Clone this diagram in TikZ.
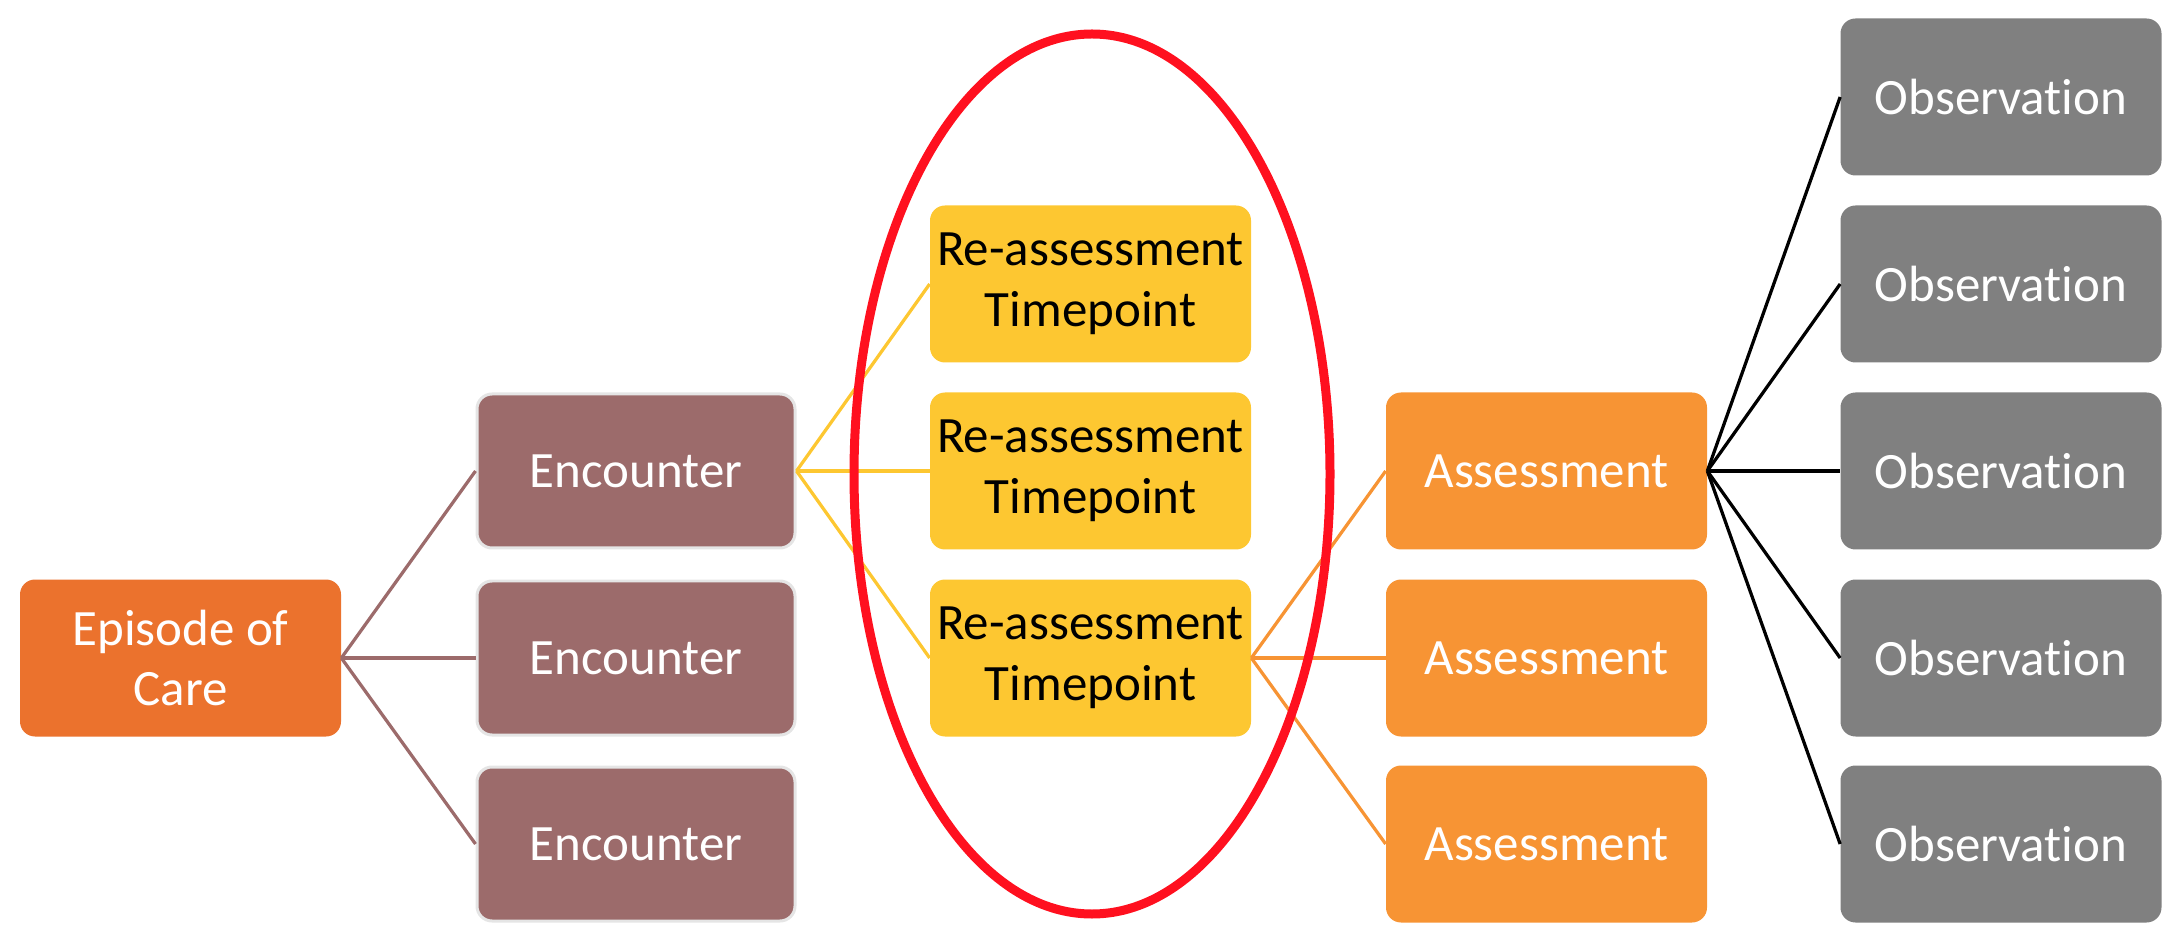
\documentclass[tikz,border=0pt]{standalone}
\usepackage{fontspec}
\setmainfont{Carlito}[RawFeature={-liga;-clig;-calt;-rlig;-dlig}]
\usepackage{xcolor}
\usetikzlibrary{positioning, shapes.geometric}
\definecolor{EPORANGE}{HTML}{EB722D}
\definecolor{ENCBROWN}{HTML}{9C6B6B}
\definecolor{TPYELLOW}{HTML}{FDC731}
\definecolor{ASORANGE}{HTML}{F79434}
\definecolor{OBSGRAY}{HTML}{808080}
\definecolor{RINGRED}{HTML}{FF101F}
\begin{document}
\begin{tikzpicture}[
          box/.style={rectangle, rounded corners=0.3cm, minimum width=6.42cm,
                      minimum height=3.14cm, align=center, text=white,
                      font=\fontsize{29}{34.5}\selectfont, inner sep=0pt},
          encbox/.style={box, fill=ENCBROWN, draw=gray!20, line width=0.06cm,
                         minimum width=6.36cm, minimum height=3.08cm},
          link/.style={line width=0.065cm}
        ]
          \useasboundingbox (0,0) rectangle (43.58,18.84);
          \node[box, fill=EPORANGE] (episode) at (3.61,5.68) {Episode of\\Care};
          \node[encbox] (enc1) at (12.72,9.42) {Encounter};
          \node[encbox] (enc2) at (12.72,5.68) {Encounter};
          \node[encbox] (enc3) at (12.72,1.96) {Encounter};
          \node[box, fill=TPYELLOW, text=black] (tp1) at (21.81,13.16) {Re-assessment\\Timepoint};
          \node[box, fill=TPYELLOW, text=black] (tp2) at (21.81,9.42) {Re-assessment\\Timepoint};
          \node[box, fill=TPYELLOW, text=black] (tp3) at (21.81,5.68) {Re-assessment\\Timepoint};
          \node[box, fill=ASORANGE] (as1) at (30.93,9.42) {Assessment};
          \node[box, fill=ASORANGE] (as2) at (30.93,5.68) {Assessment};
          \node[box, fill=ASORANGE] (as3) at (30.93,1.96) {Assessment};
          \node[box, fill=OBSGRAY] (obs1) at (40.02,16.90) {Observation};
          \node[box, fill=OBSGRAY] (obs2) at (40.02,13.16) {Observation};
          \node[box, fill=OBSGRAY] (obs3) at (40.02,9.42) {Observation};
          \node[box, fill=OBSGRAY] (obs4) at (40.02,5.68) {Observation};
          \node[box, fill=OBSGRAY] (obs5) at (40.02,1.96) {Observation};
          \draw[link, ENCBROWN] (episode.east) -- (enc1.west);
          \draw[link, ENCBROWN] (episode.east) -- (enc2.west);
          \draw[link, ENCBROWN] (episode.east) -- (enc3.west);
          \draw[link, TPYELLOW] (enc1.east) -- (tp1.west);
          \draw[link, TPYELLOW] (enc1.east) -- (tp2.west);
          \draw[link, TPYELLOW] (enc1.east) -- (tp3.west);
          \draw[link, ASORANGE] (tp3.east) -- (as1.west);
          \draw[link, ASORANGE] (tp3.east) -- (as2.west);
          \draw[link, ASORANGE] (tp3.east) -- (as3.west);
          \draw[link, black] (as1.east) -- (obs1.west);
          \draw[link, black] (as1.east) -- (obs2.west);
          \draw[link, black] (as1.east) -- (obs3.west);
          \draw[link, black] (as1.east) -- (obs4.west);
          \draw[link, black] (as1.east) -- (obs5.west);
          \node[ellipse, draw=RINGRED, line width=0.18cm, minimum width=9.52cm,
                minimum height=17.6cm, inner sep=0pt] (ring) at (21.84,9.36) {};
        \end{tikzpicture}
\end{document}
